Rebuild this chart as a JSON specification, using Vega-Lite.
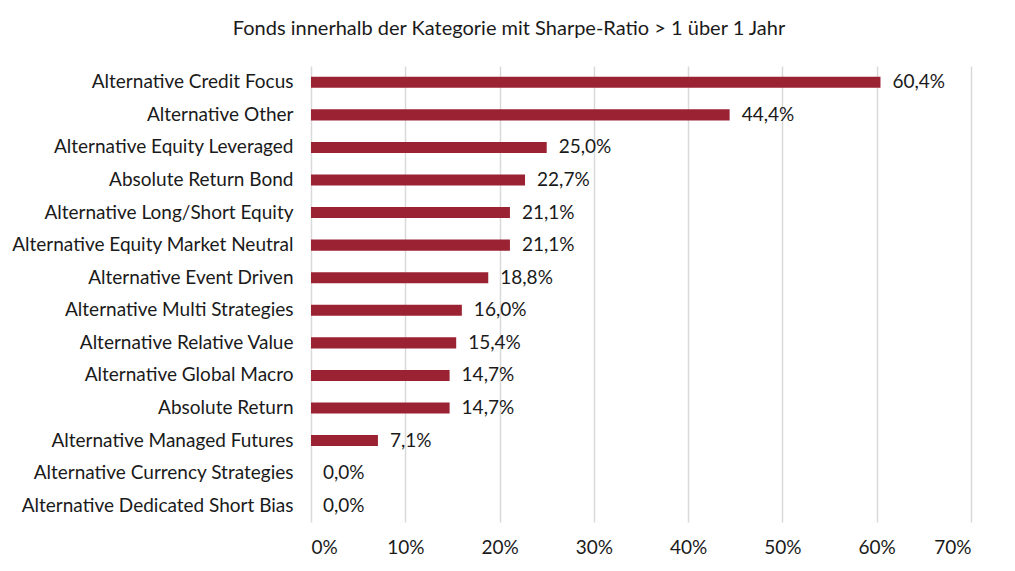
{
  "$schema": "https://vega.github.io/schema/vega-lite/v6.json",
  "description": "Fonds innerhalb der Kategorie mit Sharpe-Ratio > 1 über 1 Jahr",
  "autosize": "none",
  "width": 660,
  "height": 456,
  "padding": {"left": 311, "top": 66, "right": 44, "bottom": 49},
  "background": "white",
  "title": {
    "text": "Fonds innerhalb der Kategorie mit Sharpe-Ratio > 1 über 1 Jahr",
    "font": "Lato",
    "fontSize": 20,
    "fontWeight": "normal",
    "color": "#1a1a1a",
    "anchor": "middle",
    "dx": -132,
    "offset": 27
  },
  "data": {
    "values": [
      {"Kategorie": "Alternative Credit Focus", "Anteil": 0.604},
      {"Kategorie": "Alternative Other", "Anteil": 0.444},
      {"Kategorie": "Alternative Equity Leveraged", "Anteil": 0.25},
      {"Kategorie": "Absolute Return Bond", "Anteil": 0.227},
      {"Kategorie": "Alternative Long/Short Equity", "Anteil": 0.211},
      {"Kategorie": "Alternative Equity Market Neutral", "Anteil": 0.211},
      {"Kategorie": "Alternative Event Driven", "Anteil": 0.188},
      {"Kategorie": "Alternative Multi Strategies", "Anteil": 0.16},
      {"Kategorie": "Alternative Relative Value", "Anteil": 0.154},
      {"Kategorie": "Alternative Global Macro", "Anteil": 0.147},
      {"Kategorie": "Absolute Return", "Anteil": 0.147},
      {"Kategorie": "Alternative Managed Futures", "Anteil": 0.071},
      {"Kategorie": "Alternative Currency Strategies", "Anteil": 0},
      {"Kategorie": "Alternative Dedicated Short Bias", "Anteil": 0}
    ]
  },
  "encoding": {
    "y": {
      "field": "Kategorie",
      "type": "nominal",
      "sort": null,
      "title": null,
      "scale": {"paddingInner": 0.66, "paddingOuter": 0.33},
      "axis": {
        "ticks": false,
        "domain": false,
        "labelFont": "Lato",
        "labelFontSize": 19,
        "labelColor": "#1a1a1a",
        "labelPadding": 18,
        "labelLimit": 320
      }
    },
    "x": {
      "field": "Anteil",
      "type": "quantitative",
      "title": null,
      "scale": {"domain": [0, 0.7]},
      "axis": {
        "format": ".0%",
        "values": [0, 0.1, 0.2, 0.3, 0.4, 0.5, 0.6, 0.7],
        "ticks": false,
        "domain": false,
        "grid": true,
        "gridColor": "#d9d9d9",
        "gridWidth": 1.5,
        "labelFont": "Lato",
        "labelFontSize": 19,
        "labelColor": "#1a1a1a",
        "labelPadding": 16
      }
    }
  },
  "layer": [
    {"mark": {"type": "bar", "color": "#9b2232"}},
    {
      "mark": {"type": "text", "align": "left", "dx": 12, "font": "Lato", "fontSize": 19, "color": "#1a1a1a"},
      "encoding": {"text": {"field": "Anteil", "type": "quantitative", "format": ".1%"}}
    }
  ],
  "config": {
    "view": {"stroke": null},
    "locale": {
      "number": {"decimal": ",", "thousands": ".", "grouping": [3], "currency": ["", " €"]}
    }
  }
}
